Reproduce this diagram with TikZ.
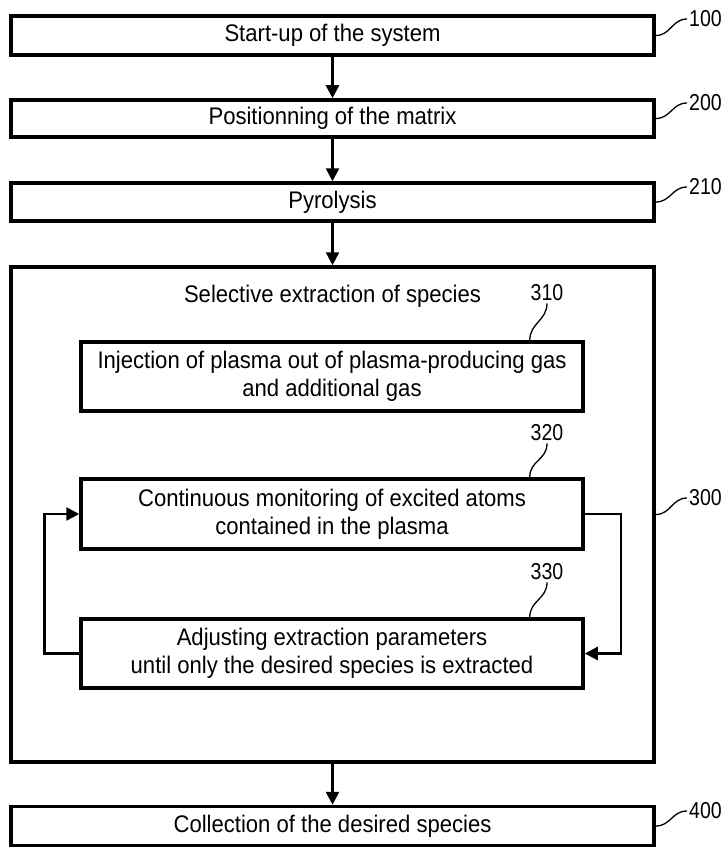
\documentclass[tikz,border=0pt]{standalone}
\usepackage{fontspec}
\setmainfont{Liberation Sans}[FakeStretch=0.92]
\newfontfamily\numfont[FakeStretch=0.85]{Liberation Sans}
\usepackage{tikz}
\usetikzlibrary{arrows.meta}

\begin{document}
\begin{tikzpicture}[x=1pt, y=1pt,
	stepbox/.style={draw, line width=3.5pt, inner sep=0pt, align=center, font=\fontsize{24}{28}\selectfont},
	outerbox/.style={stepbox, minimum width=643pt},
	innerbox/.style={stepbox, minimum width=502pt},
	flowarrow/.style={line width=2.5pt, -{Triangle[length=13pt, width=13pt]}},
	refnum/.style={font=\numfont\fontsize{23}{23}\selectfont, inner sep=2pt},
	leader/.style={line width=1.3pt}]
	\useasboundingbox (0,0) rectangle (727,-848);
	\node [outerbox, minimum height=39pt] (b100) at (332.5,-35.5) {Start-up of the system};
	\node [outerbox, minimum height=37pt] (b200) at (332.5,-118.5) {Positionning of the matrix};
	\node [outerbox, minimum height=38pt] (b210) at (332.5,-202) {Pyrolysis};
	\node [outerbox, minimum height=495pt] (b300) at (332.5,-514.5) {};
	\node [font=\fontsize{24}{28}\selectfont] (title) at (332.5,-296) {Selective extraction of species};
	\node [innerbox, minimum height=69pt] (b310) at (332,-376.5) {Injection of plasma out of plasma-producing gas\\and additional gas};
	\node [innerbox, minimum height=70pt] (b320) at (332,-514) {Continuous monitoring of excited atoms\\contained in the plasma};
	\node [innerbox, minimum height=69pt] (b330) at (332,-653.5) {Adjusting extraction parameters\\until only the desired species is extracted};
	\node [outerbox, minimum height=39pt] (b400) at (332.5,-826) {Collection of the desired species};
	\draw [flowarrow] (b100) -- (b200);
	\draw [flowarrow] (b200) -- (b210);
	\draw [flowarrow] (b210) -- (b300);
	\draw [flowarrow] (b300) -- (b400);
	\draw [flowarrow] (b330.west) -- ++(-35,0) |- (b320.west);
	\draw [flowarrow] (b320.east) -- ++(36,0) |- (b330.east);
	\node [refnum, anchor=west] (r100) at (687,-19) {100};
	\node [refnum, anchor=west] (r200) at (687,-103) {200};
	\node [refnum, anchor=west] (r210) at (687,-187) {210};
	\node [refnum, anchor=west] (r300) at (687,-498) {300};
	\node [refnum, anchor=west] (r400) at (687,-811) {400};
	\node [refnum] (r310) at (547,-293) {310};
	\node [refnum] (r320) at (547,-433) {320};
	\node [refnum] (r330) at (547,-572) {330};
	\draw [leader] (b100.east) .. controls +(15,0) and +(-15,0) .. (r100.west);
	\draw [leader] (b200.east) .. controls +(15,0) and +(-15,0) .. (r200.west);
	\draw [leader] (b210.east) .. controls +(15,0) and +(-15,0) .. (r210.west);
	\draw [leader] (b300.east) .. controls +(15,0) and +(-15,0) .. (r300.west);
	\draw [leader] (b400.east) .. controls +(15,0) and +(-15,0) .. (r400.west);
	\draw [leader] (r310.south) .. controls +(0,-17) and +(0,17) .. ([xshift=-55pt]b310.north east);
	\draw [leader] (r320.south) .. controls +(0,-17) and +(0,17) .. ([xshift=-55pt]b320.north east);
	\draw [leader] (r330.south) .. controls +(0,-17) and +(0,17) .. ([xshift=-55pt]b330.north east);
\end{tikzpicture}
\end{document}
